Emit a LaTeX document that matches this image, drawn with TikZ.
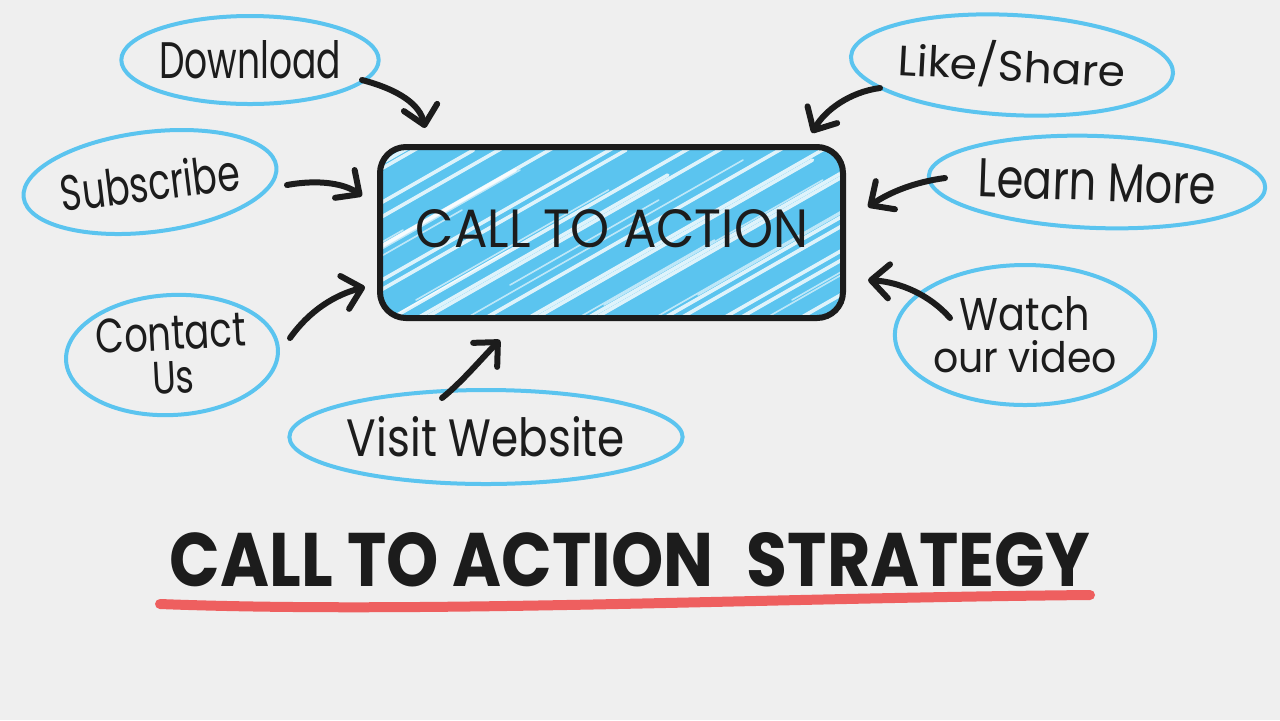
\documentclass[tikz,border=0pt]{standalone}
\usepackage{fontspec}
\setmainfont{Poppins}
\usepackage{graphicx}
\usetikzlibrary{arrows.meta,shapes.geometric}
\definecolor{bg}{HTML}{EFEFEF}
\definecolor{sky}{HTML}{5BC4EF}
\definecolor{ink}{HTML}{1C1C1C}
\definecolor{redline}{HTML}{EE5F5F}
\newcommand{\hw}[3]{\resizebox{#1}{#2}{#3}}
\begin{document}
\begin{tikzpicture}[x=0.5pt,y=-0.5pt,
  bubble/.style={ellipse, draw=sky, line width=2pt, inner sep=0pt, text=ink, align=center,
    font=\fontsize{12}{21}\selectfont},
  arr/.style={draw=ink, line width=3pt, line cap=round, -{Straight Barb[round,length=9pt,width=17pt]}},
  ctabox/.style={draw=ink, line width=3pt, rounded corners=13pt, inner sep=0pt, text=ink},
  streak/.style={white, opacity=0.8, line width=1.8pt, line cap=round},
  streakthin/.style={white, opacity=0.6, line width=0.8pt, line cap=round},
]
\fill[bg] (0,0) rectangle (1280,720);
\useasboundingbox (0,0) rectangle (1280,720);

% central box: hatched blue fill
\begin{scope}
  \clip[rounded corners=13pt] (380,147) rectangle (843,318);
  \fill[sky] (380,147) rectangle (843,318);
  \foreach \k/\a/\b in {0/340/200,1/330/160,2/345/130,3/320/140,4/340/150,5/335/130,6/345/170,7/325/130,8/340/140,9/330/150,10/345/130,11/340/175,12/325/130,13/340/140,14/345/130,15/330/160,16/340/130,17/325/140,18/345/150,19/335/130,20/340/140,21/330/130,22/345/160,23/340/130,24/335/140,25/345/150,26/330/130,27/340/150,28/345/130}{
    \draw[streak] ({\k*34+5},\a) -- ({\k*34+5+(\a-\b)*1.75},\b);
  }
  \foreach \k/\a/\b in {0/330/260,1/300/200,2/320/240,3/280/180,4/330/230,5/310/170,6/290/210,7/330/250,8/300/190,9/320/160,10/285/200,11/330/240,12/305/180,13/320/210,14/295/170,15/330/230,16/300/180,17/320/200,18/290/170,19/330/220}{
    \draw[streakthin] ({\k*47+40},\a) -- ({\k*47+40+(\a-\b)*1.75},\b);
  }
\end{scope}
\node[ctabox, minimum width=231.5pt, minimum height=85.5pt] (cta) at (611.5,232.5) {};
\node[text=ink] (ctatext) at (612,229) {\hw{196pt}{19pt}{CALL TO ACTION}};

% bubbles
\node[bubble, minimum width=112pt, minimum height=44pt] (dl) at (250,60) {\hw{91pt}{19pt}{Download}};
\node[bubble, minimum width=115pt, minimum height=50pt, rotate=7] (sub) at (150,182) {\hw{90pt}{19pt}{Subscribe}};
\node[bubble, minimum width=95pt, minimum height=60pt, rotate=3, font=\fontsize{12}{22}\selectfont] (con) at (172,355) {\hw{75pt}{17pt}{Contact}\\\hw{21pt}{16pt}{Us}};
\node[bubble, minimum width=167pt, minimum height=47pt] (web) at (486,437) {\hw{139pt}{20pt}{Visit Website}};
\node[bubble, minimum width=134pt, minimum height=50pt, rotate=-3] (like) at (1012,65) {\hw{114pt}{20pt}{Like/Share}};
\node[bubble, minimum width=146pt, minimum height=46pt, rotate=-2] (learn) at (1097,182) {\hw{119pt}{19pt}{Learn More}};
\node[bubble, minimum width=115pt, minimum height=70pt] (watch) at (1025,335) {\hw{65pt}{17pt}{Watch}\\\hw{92pt}{16pt}{our video}};

% arrow end points
\coordinate (a1s) at (362,80);  \coordinate (a1e) at (425,128);
\coordinate (a2s) at (287,185); \coordinate (a2e) at (362,196);
\coordinate (a3s) at (290,338); \coordinate (a3e) at (365,287);
\coordinate (a4s) at (442,398); \coordinate (a4e) at (500,340);
\coordinate (a5s) at (880,88);  \coordinate (a5e) at (812,133);
\coordinate (a6s) at (945,178); \coordinate (a6e) at (868,207);
\coordinate (a7s) at (950,318); \coordinate (a7e) at (868,280);

\draw[arr] (a1s) .. controls (400,90) and (420,105) .. (a1e);
\draw[arr] (a2s) .. controls (320,179) and (345,184) .. (a2e);
\draw[arr] (a3s) .. controls (310,310) and (335,295) .. (a3e);
\draw[arr] (a4s) .. controls (462,382) and (482,358) .. (a4e);
\draw[arr] (a5s) .. controls (850,92) and (825,110) .. (a5e);
\draw[arr] (a6s) .. controls (915,182) and (890,192) .. (a6e);
\draw[arr] (a7s) .. controls (930,295) and (900,282) .. (a7e);

% title
\node[text=ink] (title) at (630,560) {\bfseries\hw{460pt}{27pt}{CALL TO ACTION\hspace{0.5em}STRATEGY}};
\coordinate (u1) at (160,604);
\coordinate (u2) at (1090,595);
\draw[redline, line width=5pt, line cap=round] (u1) .. controls (420,614) and (760,598) .. (u2);
\end{tikzpicture}
\end{document}
